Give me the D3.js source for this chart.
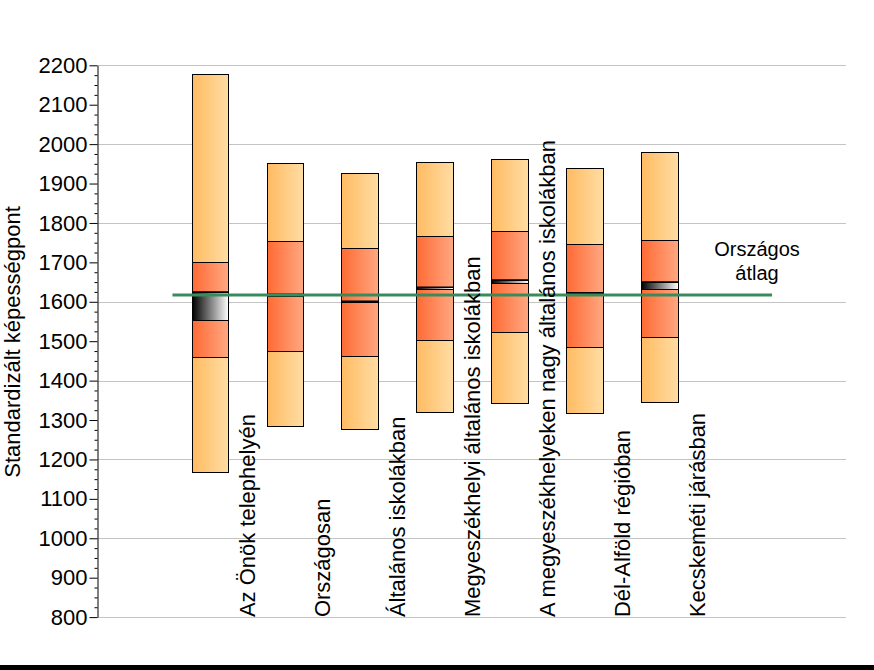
<!DOCTYPE html>
<html>
<head>
<meta charset="utf-8">
<script src="https://cdn.jsdelivr.net/npm/d3@7"></script>
<style>
  html, body { margin: 0; padding: 0; background: #fff; }
  svg { display: block; font-family: Arial, "Liberation Sans", sans-serif; }
</style>
</head>
<body>
<svg id="chart" width="874" height="670"></svg>
<script>
// ---- data ----
const categories = [
  "Az Önök telephelyén",
  "Országosan",
  "Általános iskolákban",
  "Megyeszékhelyi általános iskolákban",
  "A megyeszékhelyeken nagy általános iskolákban",
  "Dél-Alföld régióban",
  "Kecskeméti járásban"
];
const minVals  = [1168, 1285, 1278, 1321, 1343, 1317, 1345];
const p25Vals  = [1460, 1475, 1463, 1503, 1523, 1485, 1510];
const ciLow    = [1553, 1615, 1599, 1633, 1647, 1621, 1632];
const ciHigh   = [1625, 1619, 1601, 1637, 1655, 1623, 1650];
const p75Vals  = [1701, 1754, 1736, 1766, 1780, 1746, 1757];
const maxVals  = [2178, 1952, 1926, 1954, 1962, 1939, 1979];
const nationalAvg = 1617;
const nationalLabel = ["Országos", "átlag"];
const yTitle = "Standardizált képességpont";
const majorTicks = d3.range(800, 2201, 100);
const minorTicks = d3.range(800, 2201, 25).filter(v => v % 100 !== 0);
const gridTicks = d3.range(800, 2201, 200);

// ---- layout ----
const svg = d3.select("#chart");
const W = 874, H = 670;
const plotLeft = 97.5, plotRight = 847, plotTop = 65.3, plotBottom = 617.1;

const y = d3.scaleLinear().domain([800, 2200]).range([plotBottom, plotTop]);
const slots = d3.range(10);
const x = d3.scaleBand().domain(slots).range([plotLeft, plotRight]).padding(0);
const step = x.bandwidth();
const barW = step * 0.49;
const cx = i => x(i + 1) + step / 2;

// gradients
const defs = svg.append("defs");
function grad(id, c1, c2) {
  const g = defs.append("linearGradient").attr("id", id)
    .attr("x1", "0").attr("x2", "1").attr("y1", "0").attr("y2", "0");
  g.append("stop").attr("offset", "0%").attr("stop-color", c1);
  g.append("stop").attr("offset", "100%").attr("stop-color", c2);
}
grad("gLight", "#FFBB62", "#FFDDA4");
grad("gDark", "#FF6A34", "#FFA882");
grad("gCI", "#000000", "#FFFFFF");

// bottom frame bar
svg.append("rect").attr("x", 0).attr("y", 665).attr("width", W).attr("height", 5).attr("fill", "#000");

// gridlines
svg.append("g").selectAll("line").data(gridTicks).join("line")
  .attr("x1", plotLeft).attr("x2", plotRight - 1)
  .attr("y1", d => Math.round(y(d)) + 0.5).attr("y2", d => Math.round(y(d)) + 0.5)
  .attr("stroke", "#C4C4C4").attr("stroke-width", 1);

// axis
const axisG = svg.append("g").attr("transform", `translate(${plotLeft},0)`);
axisG.call(d3.axisLeft(y).tickValues(majorTicks).tickSize(8).tickSizeOuter(0).tickPadding(2).tickFormat(d3.format("d")));
axisG.selectAll("text").attr("font-size", "22px").attr("fill", "#000").attr("font-family", 'Arial, "Liberation Sans", sans-serif');
axisG.select(".domain").attr("stroke", "#000");
axisG.selectAll(".tick line").attr("stroke", "#000");
const minorG = svg.append("g").attr("transform", `translate(${plotLeft},0)`);
minorG.call(d3.axisLeft(y).tickValues(minorTicks).tickSize(3).tickSizeOuter(0).tickFormat(""));
minorG.select(".domain").remove();
minorG.selectAll(".tick line").attr("stroke", "#000");

// y title
svg.append("text")
  .attr("transform", `translate(19.5,${y(1498)}) rotate(-90)`)
  .attr("text-anchor", "middle").attr("font-size", "22px").attr("fill", "#000")
  .text(yTitle);

// bars
const bars = svg.append("g");
const px = v => Math.round(v) + 0.5;
categories.forEach((c, i) => {
  const left = px(cx(i) - barW / 2), right = px(cx(i) + barW / 2);
  const seg = (lo, hi, fill) => bars.append("rect")
    .attr("x", left).attr("width", right - left)
    .attr("y", px(y(hi))).attr("height", Math.max(px(y(lo)) - px(y(hi)), 0.8))
    .attr("fill", fill).attr("stroke", "#000").attr("stroke-width", 1);
  seg(minVals[i], maxVals[i], "url(#gLight)");
  seg(p25Vals[i], p75Vals[i], "url(#gDark)");
  seg(ciLow[i], ciHigh[i], "url(#gCI)");
  bars.append("line").attr("x1", left).attr("x2", right)
    .attr("y1", y(ciHigh[i])).attr("y2", y(ciHigh[i]))
    .attr("stroke", "#000").attr("stroke-width", 1.6);
});

// national average line
svg.append("line")
  .attr("x1", x(1)).attr("x2", x(8) + step)
  .attr("y1", y(nationalAvg)).attr("y2", y(nationalAvg))
  .attr("stroke", "#3A8B5C").attr("stroke-width", 3);

// national average label
const lab = svg.append("text").attr("text-anchor", "middle").attr("font-size", "20px").attr("fill", "#000");
nationalLabel.forEach((t, k) => {
  lab.append("tspan").attr("x", x(8) + step * 0.8).attr("y", y(nationalAvg) - 39 + k * 24).text(t);
});

// category labels
svg.append("g").selectAll("text").data(categories).join("text")
  .attr("transform", (d, i) => `translate(${cx(i) + 45},${plotBottom}) rotate(-90)`)
  .attr("text-anchor", "start").attr("font-size", "22px").attr("fill", "#000")
  .text(d => d);
</script>
</body>
</html>
